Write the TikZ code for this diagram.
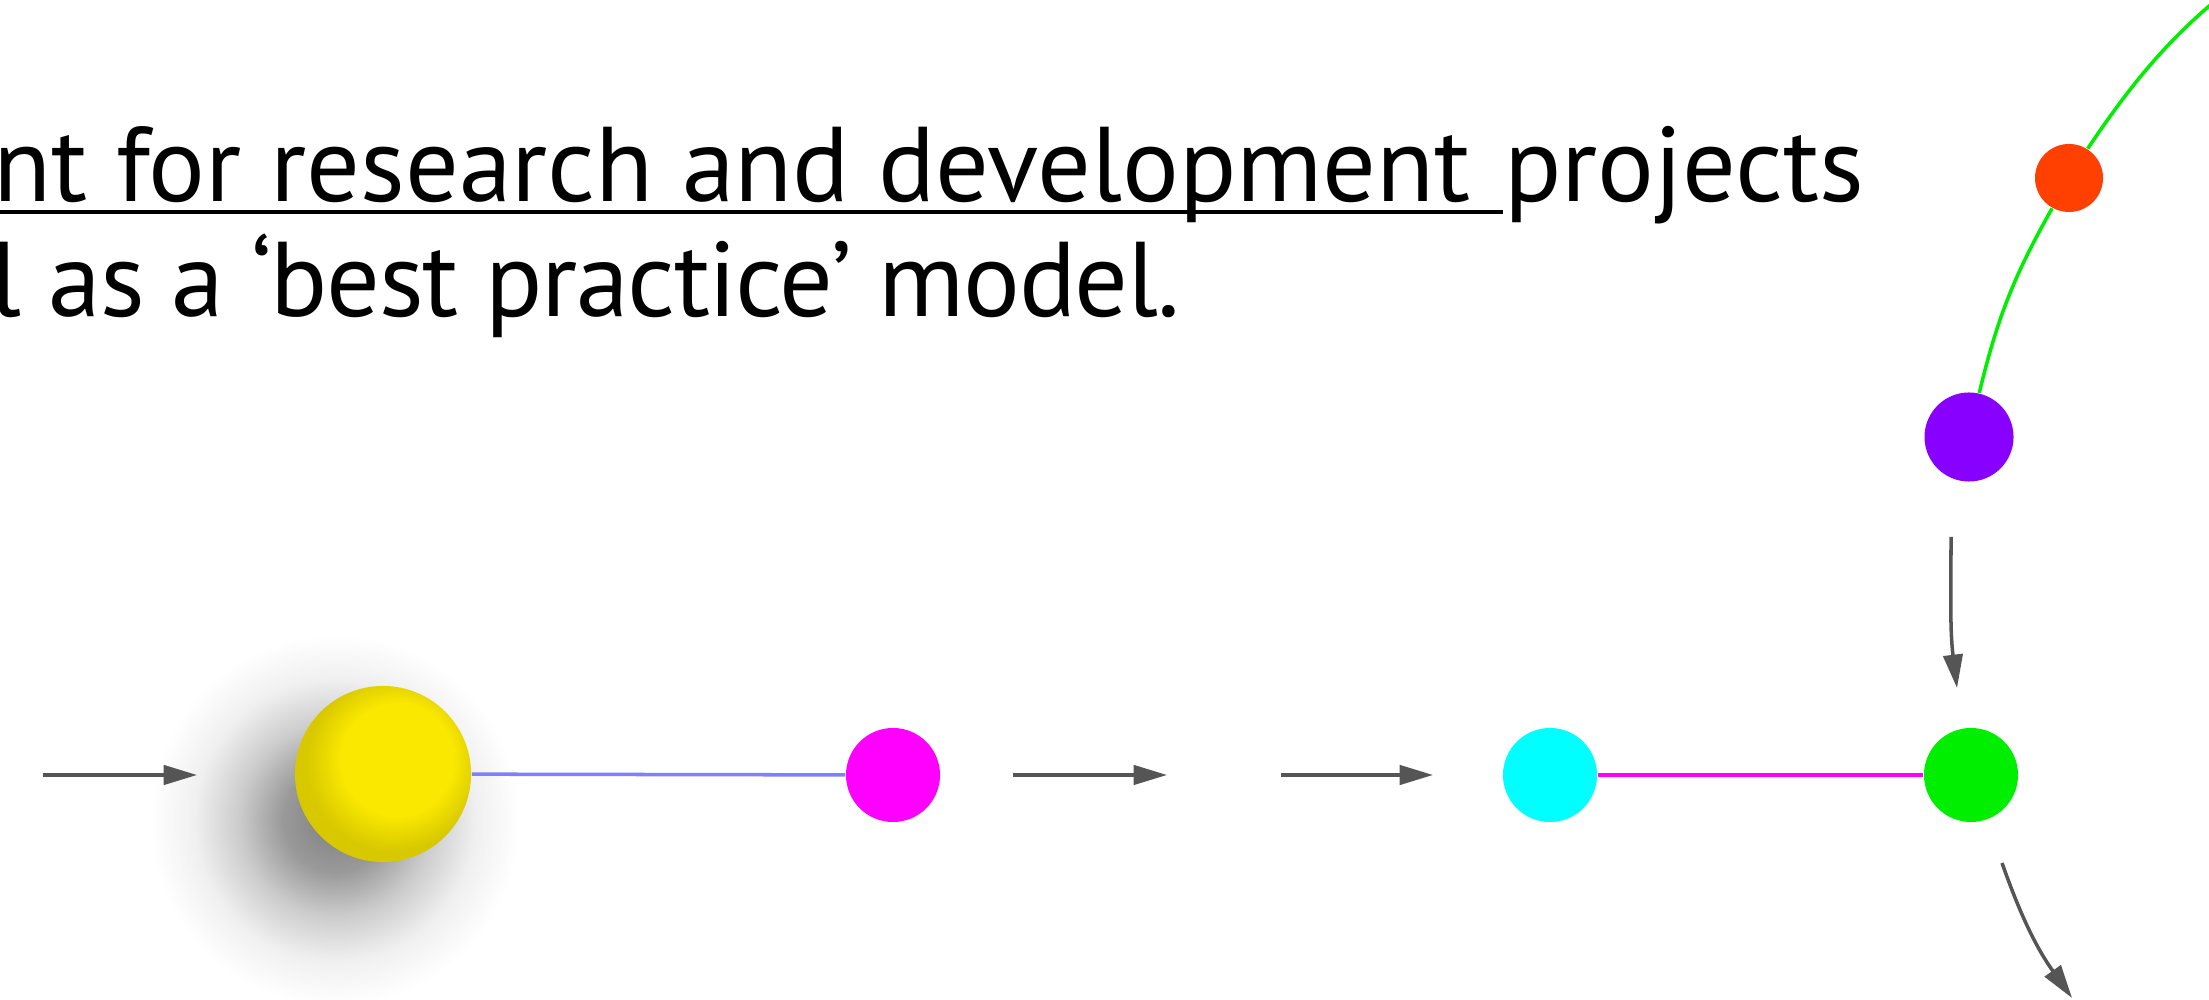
\documentclass[tikz,border=0pt]{standalone}
\usepackage{fontspec}
\setmainfont{PT Sans}
\usetikzlibrary{arrows.meta}

\definecolor{ballyellow}{RGB}{250,232,0}
\definecolor{nodemagenta}{RGB}{255,0,255}
\definecolor{nodecyan}{RGB}{0,255,255}
\definecolor{nodegreen}{RGB}{0,238,0}
\definecolor{nodepurple}{RGB}{136,0,255}
\definecolor{nodeorange}{RGB}{255,64,0}
\definecolor{lineblue}{RGB}{128,128,255}
\definecolor{flowgray}{RGB}{85,85,85}

\pgfdeclareradialshading{ballshadow}{\pgfpointorigin}{color(0bp)=(black!50); color(7bp)=(black!40); color(13bp)=(black!20); color(19bp)=(black!6); color(25bp)=(white); color(50bp)=(white)}
\pgfdeclareradialshading{yellowball}{\pgfpoint{6bp}{6bp}}{color(0bp)=(ballyellow); color(16bp)=(ballyellow); color(25bp)=(ballyellow!86!black); color(50bp)=(ballyellow!86!black)}

\begin{document}
\begin{tikzpicture}[x=0.01cm,y=0.01cm,
  main node/.style={circle,inner sep=0pt,minimum size=0.94cm},
  flow/.style={draw=flowgray,line width=1pt,-{Triangle[length=9.5pt,width=5.5pt]}},
  txt/.style={inner sep=0pt,font=\fontsize{30.2}{36}\selectfont}]
  \useasboundingbox (0,0) rectangle (2209,1000);

  \shade[shading=ballshadow] (335,180) circle (1.85cm);

  \node[main node,shade,shading=yellowball,minimum size=1.76cm] (0) at (383,226) {};
  \node[main node,fill=nodemagenta] (1) at (893,225) {};
  \node[main node,fill=nodecyan] (2) at (1550,225) {};
  \node[main node,fill=nodegreen] (3) at (1971,225) {};
  \node[main node,fill=nodepurple,minimum size=0.89cm] (4) at (1969,563) {};
  \node[main node,fill=nodeorange,minimum size=0.68cm] (5) at (2069,822) {};
  \coordinate (6) at (2290,1055);

  \path[line width=1pt]
    (0) edge[draw=lineblue] (1)
    (2) edge[draw=nodemagenta] (3)
    (4) edge[draw=nodegreen,bend left=8] (5)
    (5) edge[draw=nodegreen,bend left=11] (6);

  \coordinate (a1) at (43,225);   \coordinate (b1) at (197,225);
  \coordinate (a2) at (1013,225); \coordinate (b2) at (1167,225);
  \coordinate (a3) at (1281,225); \coordinate (b3) at (1433,225);
  \coordinate (a4) at (1951,463); \coordinate (b4) at (1957,312);
  \coordinate (a5) at (2002,137); \coordinate (b5) at (2072,2);

  \draw[flow] (a1) -- (b1);
  \draw[flow] (a2) -- (b2);
  \draw[flow] (a3) -- (b3);
  \draw[flow] (a4) to[out=-90,in=97] (b4);
  \draw[flow] (a5) to[bend right=8] (b5);

  \node[txt,anchor=base east] (t2) at (1865,798) {projects};
  \node[txt,anchor=base east] (t1) at (t2.base west) {nt for research and development\kern0.3em};
  \draw[line width=1.4pt] ([yshift=-0.1cm]t1.base west) -- ([yshift=-0.1cm]t1.base east);
  \node[txt,anchor=base west] (t3) at (-10,683) {\addfontfeatures{LetterSpace=-1.3}l as a ‘best practice’ model.};
\end{tikzpicture}
\end{document}
